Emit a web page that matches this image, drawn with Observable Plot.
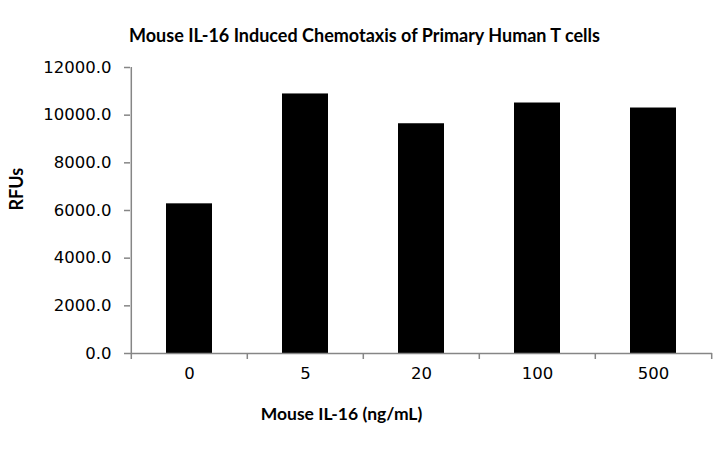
<!DOCTYPE html>
<html>
<head>
<meta charset="utf-8">
<script src="https://cdn.jsdelivr.net/npm/d3@7"></script>
<script src="https://cdn.jsdelivr.net/npm/@observablehq/plot@0.6"></script>
<style>
  html, body { margin: 0; padding: 0; background: #fff; }
  #chart svg { display: block; }
</style>
</head>
<body>
<div id="chart"></div>
<script>
const doses = ["0", "5", "20", "100", "500"];
const rfus = [6280, 10890, 9640, 10510, 10300];
const yTicks = [0, 2000, 4000, 6000, 8000, 10000, 12000];
const title = "Mouse IL-16 Induced Chemotaxis of Primary Human T cells";
const xLabel = "Mouse IL-16 (ng/mL)";
const yLabel = "RFUs";

const data = doses.map((d, i) => ({dose: d, rfu: rfus[i]}));

const W = 720, H = 450;
const mL = 130, mR = 8, mT = 67, mB = 97;
const step = (W - mL - mR) / doses.length;
const gray = "#868686";
const font = "Lato, 'Open Sans', sans-serif";
const numFont = "'DejaVu Sans', sans-serif";

const chart = Plot.plot({
  width: W,
  height: H,
  marginLeft: mL,
  marginRight: mR,
  marginTop: mT,
  marginBottom: mB,
  style: {fontFamily: font, fontSize: "17px", color: "black", background: "white"},
  x: {domain: doses, paddingInner: 0.6, paddingOuter: 0.3, axis: null},
  y: {domain: [0, 12000], axis: null},
  marks: [
    Plot.barY(data, {x: "dose", y: "rfu", fill: "black"}),
    // y axis line
    Plot.ruleX([doses[0]], {x: d => d, y1: 0, y2: 12000, dx: -step / 2, stroke: gray, strokeWidth: 1.5}),
    // x axis line
    Plot.ruleY([0], {stroke: gray, strokeWidth: 1.5}),
    // x category boundary ticks
    Plot.ruleX(doses, {x: d => d, y1: 0, y2: 0, insetBottom: -6, dx: -step / 2, stroke: gray, strokeWidth: 1.5}),
    Plot.ruleX([doses[doses.length - 1]], {x: d => d, y1: 0, y2: 0, insetBottom: -6, dx: step / 2, stroke: gray, strokeWidth: 1.5}),
    Plot.axisY({ticks: yTicks, tickFormat: d3.format(".1f"), tickSize: 6, tickPadding: 13, stroke: gray, strokeWidth: 1.5, fill: "black", label: null, fontSize: 16.5, fontFamily: numFont}),
    Plot.axisX({tickSize: 0, tickPadding: 14, fill: "black", label: null, fontSize: 16.5, fontFamily: numFont}),
    Plot.text([title], {text: d => d, frameAnchor: "top", dx: -57, dy: -38, fontWeight: "bold", fontSize: 18, fill: "black"}),
    Plot.text([xLabel], {text: d => d, frameAnchor: "bottom", dx: -80, dy: 66, fontWeight: "bold", fontSize: 17.5, fill: "black"}),
    Plot.text([yLabel], {text: d => d, frameAnchor: "left", dx: -113, rotate: -90, fontWeight: "bold", fontSize: 18, fill: "black"})
  ]
});
document.getElementById("chart").appendChild(chart);
</script>
</body>
</html>
